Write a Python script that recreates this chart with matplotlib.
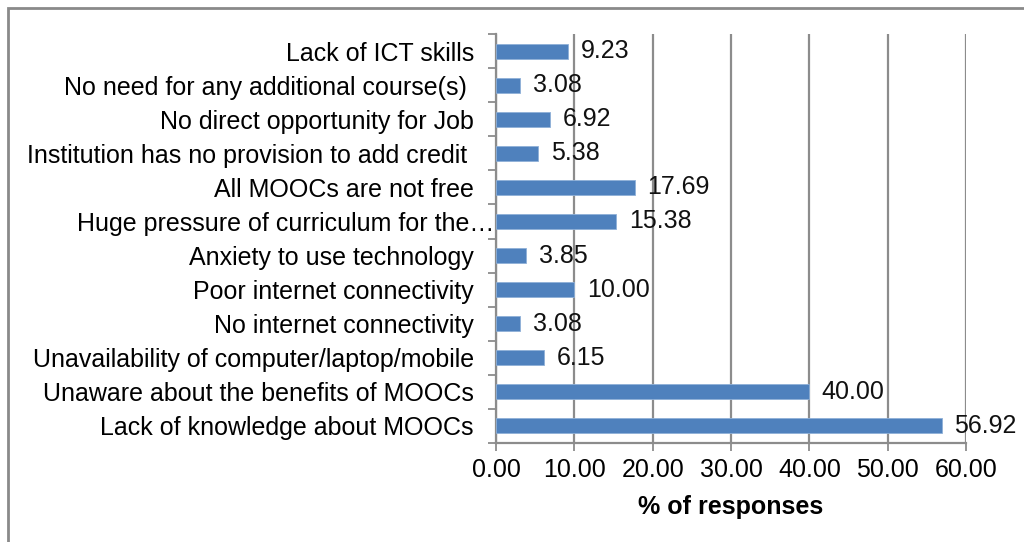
import numpy as np
import matplotlib.pyplot as plt
import matplotlib.transforms as mtransforms
from matplotlib.patches import Rectangle

# reasons, listed bottom to top as drawn
reasons = [
    "Lack of knowledge about MOOCs",
    "Unaware about the benefits of MOOCs",
    "Unavailability of computer/laptop/mobile",
    "No internet connectivity",
    "Poor internet connectivity",
    "Anxiety to use technology",
    "Huge pressure of curriculum for the\u2026",
    "All MOOCs are not free",
    "Institution has no provision to add credit ",
    "No direct opportunity for Job",
    "No need for any additional course(s) ",
    "Lack of ICT skills",
]
percent = [56.92, 40.00, 6.15, 3.08, 10.00, 3.85, 15.38, 17.69, 5.38, 6.92, 3.08, 9.23]
x_ticks = [0, 10, 20, 30, 40, 50, 60]

plt.rcParams['font.family'] = ['Liberation Sans', 'DejaVu Sans']
grid_col = '#8c8c8c'
bar_col = '#4f81bd'
fs = 18

fig = plt.figure(figsize=(10.24, 5.42), dpi=100)
ax = fig.add_axes([496 / 1024, 1 - 443 / 542, 470 / 1024, 409 / 542])

y = np.arange(len(reasons))
ax.barh(y, percent, height=0.44, color=bar_col, edgecolor='#8fb0d8', linewidth=0.6, zorder=3)

for yi, v in zip(y, percent):
    ax.text(v + 1.6, yi, f"{v:.2f}", va='center', ha='left', fontsize=fs, color='#111111', zorder=4)

ax.set_xlim(0, 60)
ax.set_ylim(-0.5, len(reasons) - 0.5)
ax.set_xticks(x_ticks)
ax.set_xticklabels([f"{t:.2f}" for t in x_ticks], fontsize=fs)
ax.xaxis.grid(True, color=grid_col, linewidth=1.6, zorder=0)

# boundary ticks between categories, labels on minor ticks
ax.set_yticks(np.arange(-0.5, len(reasons), 1.0))
ax.set_yticklabels([])
ax.set_yticks(y, minor=True)
ax.set_yticklabels(reasons, minor=True, fontsize=fs)
ax.tick_params(axis='y', which='minor', length=0, pad=16)
ax.tick_params(axis='y', which='major', length=6, width=1.3, color=grid_col)
ax.tick_params(axis='x', which='major', length=6, width=1.3, color=grid_col, pad=5)

# the truncated label runs up to the axis line
for lbl in ax.get_yticklabels(minor=True):
    if lbl.get_text().endswith('\u2026'):
        lbl.set_transform(lbl.get_transform() +
                          mtransforms.ScaledTranslation(0.21, 0, fig.dpi_scale_trans))

for side in ['top', 'right']:
    ax.spines[side].set_visible(False)
for side in ['left', 'bottom']:
    ax.spines[side].set_color(grid_col)
    ax.spines[side].set_linewidth(1.6)

ax.set_xlabel('% of responses', fontsize=fs, fontweight='bold', labelpad=9)

# outer frame of the chart area
fig.patches.append(Rectangle((8 / 1024, -0.1), 1.2, 1 - 8 / 542 + 0.1, transform=fig.transFigure,
                             fill=False, edgecolor='#8a8a8a', linewidth=2))

fig.savefig('out.png', dpi=100)
